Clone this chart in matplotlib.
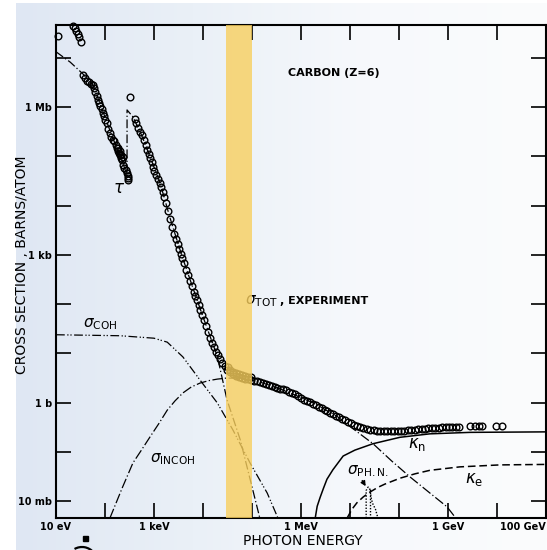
import numpy as np
import matplotlib.pyplot as plt
from matplotlib.colors import LinearSegmentedColormap
from matplotlib.patches import Rectangle, Arc

# all values are log10(E / eV) and log10(sigma / barn)

# experimental total cross section (circles)
exp_logE = [1.04,
            1.35, 1.38, 1.41, 1.44, 1.47, 1.51,
            1.55, 1.60, 1.64, 1.68, 1.72, 1.76, 1.77, 1.80, 1.83, 1.86, 1.88, 1.90,
            1.93, 1.95, 1.97, 2.01, 2.04, 2.07, 2.10, 2.13, 2.16, 2.19, 2.22, 2.24,
            2.26, 2.28, 2.31, 2.33, 2.35, 2.37, 2.39, 2.42, 2.45, 2.46, 2.47, 2.47,
            2.27, 2.30, 2.33, 2.36,
            2.51,
            2.61, 2.64, 2.67, 2.71, 2.75, 2.79, 2.83, 2.86, 2.89, 2.92, 2.95, 2.98,
            3.01, 3.05, 3.09, 3.12, 3.15, 3.18, 3.21, 3.25, 3.29, 3.33, 3.37, 3.41,
            3.45, 3.49, 3.52, 3.55, 3.58, 3.62, 3.66, 3.69, 3.73, 3.77, 3.81, 3.84,
            3.88, 3.91, 3.94, 3.98, 4.02, 4.06, 4.10, 4.14, 4.18, 4.22, 4.27, 4.31,
            4.35, 4.39, 4.44, 4.49, 4.55, 4.61, 4.67, 4.73, 4.80, 4.86, 4.92, 4.98,
            4.50, 4.56, 4.62, 4.68, 4.74, 4.80, 4.86, 4.92, 4.98,
            5.04, 5.10, 5.16, 5.22, 5.28, 5.34, 5.40, 5.46, 5.52, 5.58, 5.64, 5.70,
            5.76, 5.82, 5.88, 5.94, 6.00, 6.06, 6.12, 6.18, 6.24, 6.30, 6.36, 6.42,
            6.48, 6.54, 6.60, 6.66, 6.72, 6.78, 6.84, 6.90, 6.96, 7.02, 7.08, 7.14,
            7.20, 7.27, 7.34, 7.41, 7.48, 7.55, 7.62, 7.69, 7.76, 7.83, 7.90, 7.97,
            8.04, 8.11, 8.18, 8.25, 8.32, 8.39, 8.46, 8.53, 8.60, 8.67, 8.74, 8.81,
            8.88, 8.95, 9.02, 9.09, 9.16, 9.23,
            9.45, 9.56, 9.63, 9.70, 9.98, 10.10]
exp_logS = [7.44,
            7.64, 7.60, 7.55, 7.49, 7.42, 7.32,
            6.65, 6.58, 6.53, 6.50, 6.47, 6.44, 6.38, 6.30, 6.23, 6.15, 6.08, 6.03,
            5.96, 5.88, 5.82, 5.74, 5.67, 5.56, 5.48, 5.40, 5.33, 5.30, 5.22, 5.17,
            5.11, 5.06, 5.02, 4.97, 4.92, 4.83, 4.77, 4.72, 4.66, 4.60, 4.55, 4.51,
            5.16, 5.10, 5.03, 4.98,
            6.20,
            5.76, 5.68, 5.58, 5.50, 5.43, 5.33, 5.22, 5.13, 5.05, 4.97, 4.88, 4.79,
            4.70, 4.62, 4.54, 4.46, 4.37, 4.28, 4.17, 4.05, 3.89, 3.73, 3.57, 3.42,
            3.33, 3.23, 3.12, 3.02, 2.94, 2.84, 2.70, 2.60, 2.48, 2.37, 2.25, 2.16,
            2.08, 1.98, 1.88, 1.78, 1.67, 1.56, 1.44, 1.32, 1.22, 1.14, 1.04, 0.96,
            0.88, 0.81, 0.74, 0.67, 0.62, 0.58, 0.55, 0.53, 0.51, 0.49, 0.48, 0.46,
            0.72, 0.66, 0.63, 0.60, 0.58, 0.56, 0.55, 0.53, 0.52,
            0.45, 0.44, 0.42, 0.41, 0.38, 0.36, 0.35, 0.32, 0.30, 0.28, 0.27, 0.25,
            0.22, 0.20, 0.17, 0.13, 0.09, 0.05, 0.03, 0.01, -0.02, -0.05, -0.08, -0.11,
            -0.14, -0.17, -0.20, -0.23, -0.26, -0.29, -0.32, -0.35, -0.38, -0.42, -0.45, -0.48,
            -0.50, -0.52, -0.54, -0.55, -0.56, -0.57, -0.57, -0.58, -0.58, -0.58, -0.58, -0.58,
            -0.58, -0.57, -0.56, -0.55, -0.55, -0.54, -0.53, -0.53, -0.52, -0.52, -0.51, -0.51,
            -0.50, -0.50, -0.50, -0.49, -0.49, -0.49,
            -0.48, -0.48, -0.48, -0.48, -0.47, -0.47]

# photoelectric (tau)
tau_logE = [1.00, 1.29, 1.55, 1.76, 1.90, 2.04, 2.16, 2.31, 2.45, 2.45, 2.57, 2.75,
            2.92, 3.12, 3.33, 3.57, 3.77, 3.98, 4.14, 4.29, 4.49, 4.76, 5.16]
tau_logS = [7.12, 6.91, 6.67, 6.44, 6.06, 5.69, 5.36, 5.04, 4.60, 5.94, 5.80, 5.42,
            4.99, 4.47, 3.74, 2.98, 2.40, 1.80, 1.36, 0.95, 0.06, -0.75, -2.34]

# coherent scattering
coh_logE = [1.00, 2.31, 3.00, 3.27, 3.59, 3.94, 4.29, 4.61, 4.96, 5.31, 5.53]
coh_logS = [1.38, 1.36, 1.31, 1.23, 0.93, 0.46, 0.00, -0.55, -1.22, -1.83, -2.34]

# incoherent (Compton) scattering
inc_logE = [2.10, 2.35, 2.57, 2.75, 2.92, 3.10, 3.27, 3.43, 3.59, 3.76, 3.94, 4.12,
            4.29, 4.47, 4.65, 4.90, 5.16, 5.47, 5.78, 6.24, 6.73, 7.00, 7.47, 7.85,
            8.22, 8.63, 8.98, 9.16]
inc_logS = [-2.34, -1.73, -1.22, -0.95, -0.69, -0.42, -0.15, 0.04, 0.20, 0.32, 0.40, 0.45,
            0.48, 0.50, 0.50, 0.47, 0.42, 0.32, 0.20, 0.00, -0.27, -0.48, -0.83, -1.18,
            -1.50, -1.83, -2.11, -2.34]

# pair production, nuclear field
kn_logE = [6.29, 6.33, 6.39, 6.46, 6.53, 6.65, 6.86, 7.10, 7.47, 8.02, 8.63, 9.45, 11.0]
kn_logS = [-2.34, -2.10, -1.92, -1.73, -1.55, -1.36, -1.08, -0.96, -0.83, -0.70, -0.63, -0.60, -0.59]

# pair production, electron field
ke_logE = [6.94, 7.04, 7.14, 7.27, 7.41, 7.56, 7.71, 8.02, 8.33, 8.63, 9.24, 10.06, 11.0]
ke_logS = [-2.34, -2.16, -2.03, -1.91, -1.81, -1.72, -1.65, -1.53, -1.44, -1.37, -1.30, -1.26, -1.25]

# photonuclear giant resonance
phn_logE = [7.33, 7.33, 7.35, 7.37, 7.40, 7.42, 7.44, 7.47, 7.52, 7.57]
phn_logS = [-2.34, -1.78, -1.74, -1.71, -1.74, -1.85, -1.97, -2.06, -2.16, -2.34]
phn_inner_logE = [7.40, 7.40]
phn_inner_logS = [-2.34, -1.74]

band_logE = [4.47, 5.00]

xtick_logE = list(range(1, 12))
xtick_labels = ['10 eV', '', '1 keV', '', '', '1 MeV', '', '', '1 GeV', '', '100 GeV']
ytick_logS = list(range(-2, 8))
ytick_labels = ['10 mb', '', '1 b', '', '', '1 kb', '', '', '1 Mb', '']


def p(v):
    return 10.0 ** np.asarray(v, dtype=float)


fig = plt.figure(figsize=(5.47, 5.50), dpi=100)
fig.patch.set_facecolor('white')

# scanned-paper look
bg = fig.add_axes([16 / 547, 0, 531 / 547, 547 / 550], zorder=0)
cmap = LinearSegmentedColormap.from_list('paper', ['#dfe7f3', '#eaf0f7', '#f7f9fc', '#fbfcfd'])
bg.imshow(np.linspace(0, 1, 256)[None, :], cmap=cmap, aspect='auto', extent=[0, 1, 0, 1])
bg.axis('off')

ax = fig.add_axes([56 / 547, 32 / 550, 490 / 547, 493 / 550], zorder=1)
ax.set_facecolor('none')
ax.set_xscale('log')
ax.set_yscale('log')

lw = 0.9
ax.plot(p(tau_logE), p(tau_logS), color='black', lw=lw, dashes=(7, 2, 1, 2), zorder=2)
ax.plot(p(coh_logE), p(coh_logS), color='black', lw=lw, dashes=(7, 2, 1, 1.5, 1, 2), zorder=2)
ax.plot(p(inc_logE), p(inc_logS), color='black', lw=lw, dashes=(8, 2, 1, 2), zorder=2)
ax.plot(p(kn_logE), p(kn_logS), color='black', lw=1.1, zorder=2)
ax.plot(p(ke_logE), p(ke_logS), color='black', lw=1.1, dashes=(5, 2.5), zorder=2)
ax.plot(p(phn_logE), p(phn_logS), color='black', lw=1.0, dashes=(1, 1.2), zorder=2)
ax.plot(p(phn_inner_logE), p(phn_inner_logS), color='black', lw=1.0, dashes=(1, 1.2), zorder=2)

ax.plot(p(exp_logE), p(exp_logS), 'o', ms=4.8, mfc='none', mec='black', mew=1.0,
        zorder=3, clip_on=False)

ax.axvspan(p(band_logE[0]), p(band_logE[1]), color='#f8cf5e', alpha=0.8, lw=0, zorder=5)

ax.set_xlim(1e1, 1e11)
ax.set_ylim(10 ** -2.337, 10 ** 7.663)
ax.minorticks_off()
ax.set_xticks(p(xtick_logE))
ax.set_xticklabels(xtick_labels)
ax.set_yticks(p(ytick_logS))
ax.set_yticklabels(ytick_labels)
ax.tick_params(which='major', direction='in', length=11, width=1.2,
               top=True, right=True, labelsize=7, pad=3)
for lbl in ax.get_xticklabels() + ax.get_yticklabels():
    lbl.set_fontweight('bold')
# last energy label sits at the right edge: keep it inside the figure
ax.get_xticklabels()[-1].set_horizontalalignment('right')
for s in ax.spines.values():
    s.set_linewidth(1.5)

# annotations
ax.text(p(5.73), p(6.69), 'CARBON (Z=6)', fontsize=8, fontweight='bold', va='center')
ax.text(p(2.28), p(4.36), r'$\tau$', fontsize=12, ha='center', va='center')
ax.text(p(1.55), p(1.60), r'$\sigma_{\mathrm{COH}}$', fontsize=11, va='center')
ax.text(p(2.92), p(-1.14), r'$\sigma_{\mathrm{INCOH}}$', fontsize=11, va='center')
ax.text(p(4.86), p(2.06), r'$\sigma_{\mathrm{TOT}}$', fontsize=11, va='center')
ax.text(p(5.58), p(2.06), ', EXPERIMENT', fontsize=8, fontweight='bold', va='center')
ax.text(p(8.18), p(-0.84), r'$\kappa_{\mathrm{n}}$', fontsize=12, va='center')
ax.text(p(9.35), p(-1.55), r'$\kappa_{\mathrm{e}}$', fontsize=12, va='center')
ax.text(p(6.94), p(-1.38), r'$\sigma_{\mathrm{PH.N.}}$', fontsize=11, va='center')
ax.annotate('', xy=(p(7.35), p(-1.74)), xytext=(p(7.22), p(-1.53)),
            arrowprops=dict(arrowstyle='-|>', color='black', lw=1.0, mutation_scale=7))

fig.text(22 / 547, 1 - 265 / 550, 'CROSS SECTION , BARNS/ATOM', rotation=90,
         fontsize=10, ha='center', va='center')
fig.text(303 / 547, 1 - 541 / 550, 'PHOTON ENERGY', fontsize=10, ha='center', va='center')

# scan marks at bottom left
fig.patches.append(Rectangle((83 / 547, 1 - 541 / 550), 5 / 547, 5 / 550,
                             transform=fig.transFigure, color='black'))
fig.patches.append(Arc((82 / 547, 1 - 562 / 550), 30 / 547, 30 / 550, theta1=40, theta2=120,
                       transform=fig.transFigure, color='black', lw=1.6))

fig.savefig('out.png', dpi=100)
